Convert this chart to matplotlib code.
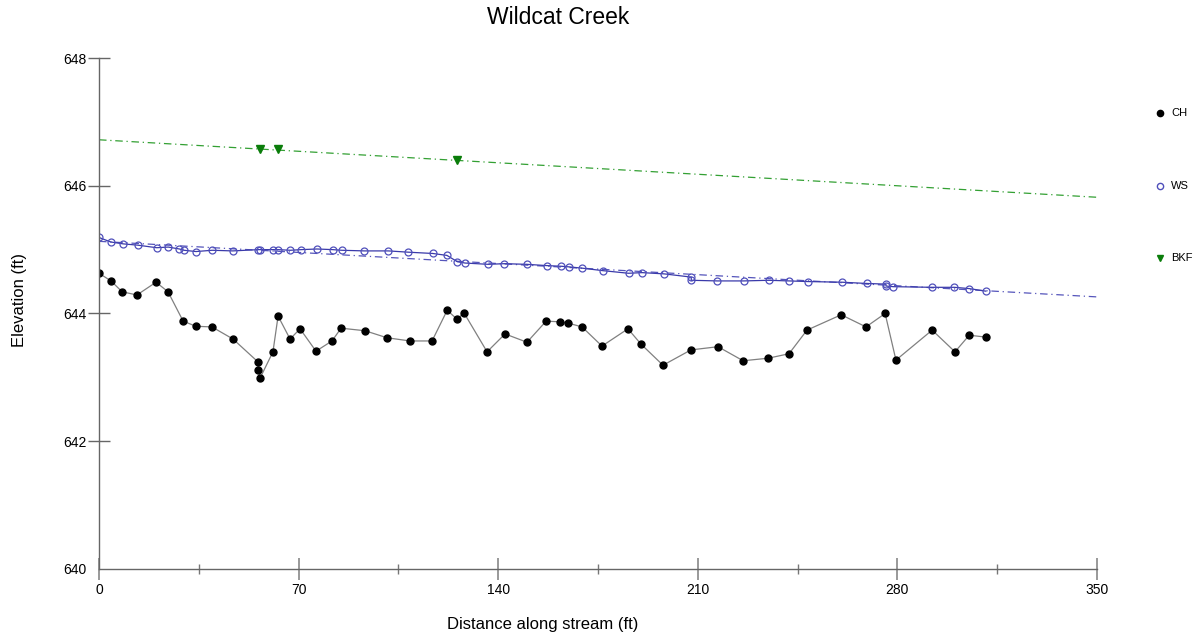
import matplotlib
matplotlib.use("Agg")
import matplotlib.pyplot as plt
import numpy as np

plt.rcParams["font.family"] = ["Liberation Sans", "DejaVu Sans"]

#-- Channel bed (CH)
ch_x = [0, 4.2, 8.1, 13.3, 20.0, 24.2, 29.5, 34.0, 39.6, 47.0, 55.8, 55.8, 56.5,
        61.0, 62.8, 67.0, 70.5, 76.1, 81.7, 84.9, 93.3, 101.0, 109.1, 116.8,
        122.1, 125.6, 128.0, 136.1, 142.4, 150.1, 156.8, 161.7, 164.5, 169.4,
        176.4, 185.5, 190.1, 197.8, 207.6, 217.1, 225.9, 234.7, 242.0, 248.3,
        260.3, 269.0, 275.7, 279.5, 292.2, 300.2, 305.2, 311.1]
ch_y = [644.63, 644.51, 644.34, 644.29, 644.49, 644.34, 643.88, 643.80, 643.79,
        643.60, 643.24, 643.12, 642.99, 643.40, 643.96, 643.60, 643.76, 643.41,
        643.57, 643.77, 643.73, 643.62, 643.57, 643.57, 644.05, 643.91, 644.01,
        643.40, 643.68, 643.55, 643.88, 643.87, 643.85, 643.79, 643.49, 643.76,
        643.52, 643.19, 643.43, 643.48, 643.26, 643.30, 643.37, 643.74, 643.98,
        643.79, 644.00, 643.27, 643.74, 643.40, 643.66, 643.63]

#-- Water surface (WS)
ws_x = [0, 4.1, 8.5, 13.6, 20.2, 24.3, 28.2, 29.8, 34.0, 39.7, 46.9, 55.9, 56.5,
        61.1, 62.7, 67.1, 70.9, 76.4, 82.0, 85.1, 93.1, 101.5, 108.5, 117.0,
        122.0, 125.7, 128.4, 136.5, 142.2, 150.0, 157.1, 162.0, 164.9, 169.4,
        176.9, 185.7, 190.5, 198.3, 207.7, 207.7, 216.9, 226.1, 234.8, 242.0,
        248.7, 260.5, 269.4, 276.0, 276.0, 278.6, 292.2, 300.0, 305.2, 311.0]
ws_y = [645.19, 645.12, 645.09, 645.07, 645.03, 645.04, 645.01, 644.99, 644.97,
        644.99, 644.98, 645.00, 645.00, 645.00, 645.00, 644.99, 645.00, 645.01,
        645.00, 644.99, 644.98, 644.98, 644.96, 644.94, 644.91, 644.81, 644.79,
        644.77, 644.78, 644.77, 644.75, 644.74, 644.73, 644.71, 644.67, 644.63,
        644.64, 644.62, 644.57, 644.52, 644.51, 644.51, 644.52, 644.51, 644.50,
        644.49, 644.47, 644.46, 644.43, 644.42, 644.41, 644.41, 644.39, 644.35]
ws_fit_x = [0, 350]
ws_fit_y = [645.13, 644.26]

#-- Bankfull (BKF)
bkf_x = [56.5, 62.8, 125.6]
bkf_y = [646.58, 646.58, 646.40]
bkf_fit_x = [0, 350]
bkf_fit_y = [646.72, 645.82]

x_ticks = [0, 70, 140, 210, 280, 350]
y_ticks = [640, 642, 644, 646, 648]

fig = plt.figure(figsize=(11.96, 6.37), dpi=100)
ax = fig.add_axes([0.0828, 0.1068, 0.8344, 0.8021])

#-- bankfull
ax.plot(bkf_fit_x, bkf_fit_y, color="#33a033", lw=0.9, ls=(0, (6, 3, 1, 3)))
ax.plot(bkf_x, bkf_y, ls="none", marker="v", color="#0a7d0a", ms=6, label="BKF")

#-- water surface
ax.plot(ws_fit_x, ws_fit_y, color="#5555bb", lw=0.9, ls=(0, (6, 3, 1, 3)))
ax.plot(ws_x, ws_y, color="#3a3aaa", lw=0.9, marker="o", ms=5,
        mfc="none", mec="#5050bb", mew=0.9)

#-- channel bed
ax.plot(ch_x, ch_y, color="#808080", lw=0.9, marker="o", ms=5,
        mfc="black", mec="black")

ax.set_xlim(0, 350)
ax.set_ylim(640, 648)
ax.set_xticks(x_ticks)
ax.set_xticks([35, 105, 175, 245, 315], minor=True)
ax.set_yticks(y_ticks)
ax.set_yticklabels(["640", "642", "644", "646", "648"])

for s in ["top", "right"]:
    ax.spines[s].set_visible(False)
for s in ["left", "bottom"]:
    ax.spines[s].set_color("#666666")
    ax.spines[s].set_linewidth(1.0)

ax.tick_params(axis="x", which="major", direction="inout", length=16,
               color="#888888", width=1.2, labelsize=10, pad=2)
ax.tick_params(axis="x", which="minor", direction="inout", length=7,
               color="#777777", width=1.0)
ax.tick_params(axis="y", which="major", direction="inout", length=16,
               color="#666666", width=1.0, labelsize=10, pad=1)
ax.yaxis.get_major_ticks()[0].tick1line.set_visible(False)
ax.yaxis.get_major_ticks()[0].tick2line.set_visible(False)

#-- title and axis labels (placed like the original, left of axes centre)
fig.text(558 / 1196, 1 - 18 / 637, "Wildcat Creek", fontsize=16.5,
         ha="center", va="center")
fig.text(543 / 1196, 1 - 625 / 637, "Distance along stream (ft)", fontsize=12,
         ha="center", va="center")
fig.text(20 / 1196, 1 - 300 / 637, "Elevation (ft)", fontsize=12,
         ha="center", va="center", rotation=90)

#-- legend on the right
leg_items = [("CH", "o", "black", "black", 0.822),
             ("WS", "o", "none", "#5050bb", 0.708),
             ("BKF", "v", "#0a7d0a", "#0a7d0a", 0.595)]
for lab, m, fc, ec, yy in leg_items:
    fig.lines.append(plt.Line2D([0.9695], [yy], transform=fig.transFigure,
                                marker=m, ls="none", ms=4.5, mfc=fc, mec=ec))
    fig.text(0.979, yy, lab, fontsize=8, va="center", ha="left")

fig.savefig("out.png", dpi=100)
